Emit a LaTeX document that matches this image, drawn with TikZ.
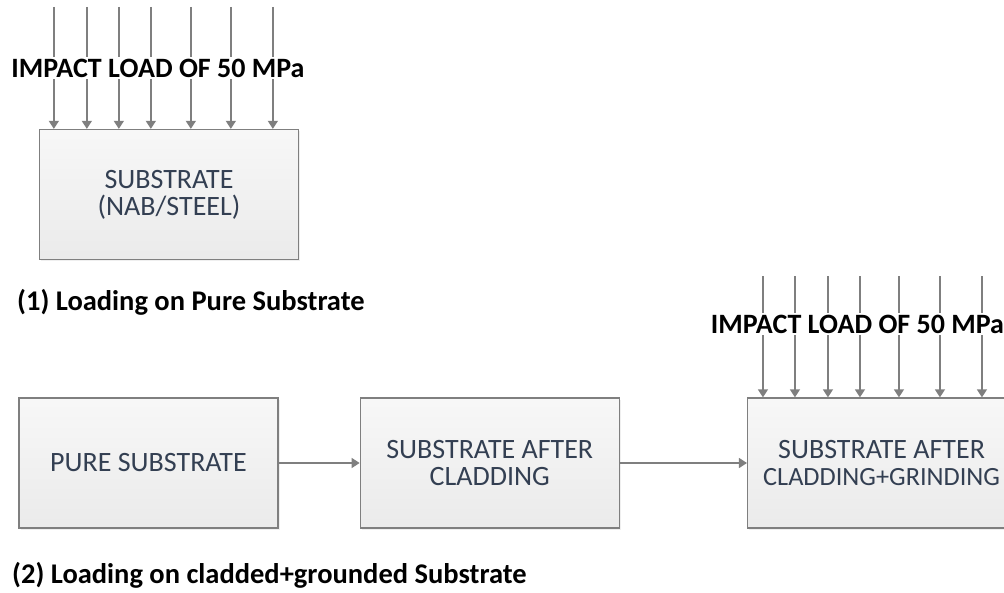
\documentclass[tikz,border=0pt]{standalone}
\usepackage{fontspec}
\setmainfont{Carlito}
\usepackage{tikz}
\usetikzlibrary{arrows.meta, positioning, shadows}
\definecolor{boxline}{HTML}{7F7F7F}
\definecolor{boxtext}{HTML}{333F52}

\begin{document}
\begin{tikzpicture}[x=1pt, y=-1pt,
    every node/.style={font=\fontsize{28}{27}\selectfont},
    box/.style={draw=boxline, line width=1.3pt, top color=white!97!black, bottom color=white!92!black,
      text=boxtext, align=center, minimum width=259pt, minimum height=130pt, inner sep=0pt,
      drop shadow={shadow xshift=1.5pt, shadow yshift=-1.5pt, fill=black!12}},
    load/.style={draw=boxline, line width=1.3pt, -{Triangle[width=10pt, length=8pt]}},
    loadlbl/.style={fill=white, font=\fontsize{28}{28}\selectfont\bfseries, inner sep=2pt, anchor=base},
    caption/.style={font=\fontsize{28.5}{28.5}\selectfont\bfseries, inner sep=0pt, anchor=base west}]
    \useasboundingbox (0,0) rectangle (1004,592);

    % (1) pure substrate under load
    \node[box] (sub) at (169,194.5) {SUBSTRATE\\(NAB/STEEL)};
    \foreach \dx [count=\i] in {15,48,80,112,152,192,234} {
      \coordinate (ta\i) at ([xshift=\dx pt, yshift=122pt]sub.north west);
      \draw[load] (ta\i) -- (ta\i |- sub.north);
    }
    \node[loadlbl] (lbl1) at (158,77) {IMPACT LOAD OF 50 MPa};
    \node[caption] (cap1) at (17,310) {(1) Loading on Pure Substrate};

    % (2) cladded + ground substrate
    \node[box] (pure) at (148.5,463) {PURE SUBSTRATE};
    \node[box, right=81pt of pure] (clad) {SUBSTRATE AFTER\\CLADDING};
    \node[box, right=127pt of clad, minimum width=268pt] (grind)
      {SUBSTRATE AFTER\\\fontsize{26.3}{27}\selectfont CLADDING+GRINDING};
    \draw[load] (pure) -- (clad);
    \draw[load] (clad) -- (grind);
    \foreach \dx [count=\i] in {16,48,81,113,152,193,235} {
      \coordinate (tb\i) at ([xshift=\dx pt, yshift=121pt]grind.north west);
      \draw[load] (tb\i) -- (tb\i |- grind.north);
    }
    \node[loadlbl] (lbl2) at (857.5,333) {IMPACT LOAD OF 50 MPa};
    \node[caption] (cap2) at (12,583) {(2) Loading on cladded+grounded Substrate};
  \end{tikzpicture}
\end{document}
